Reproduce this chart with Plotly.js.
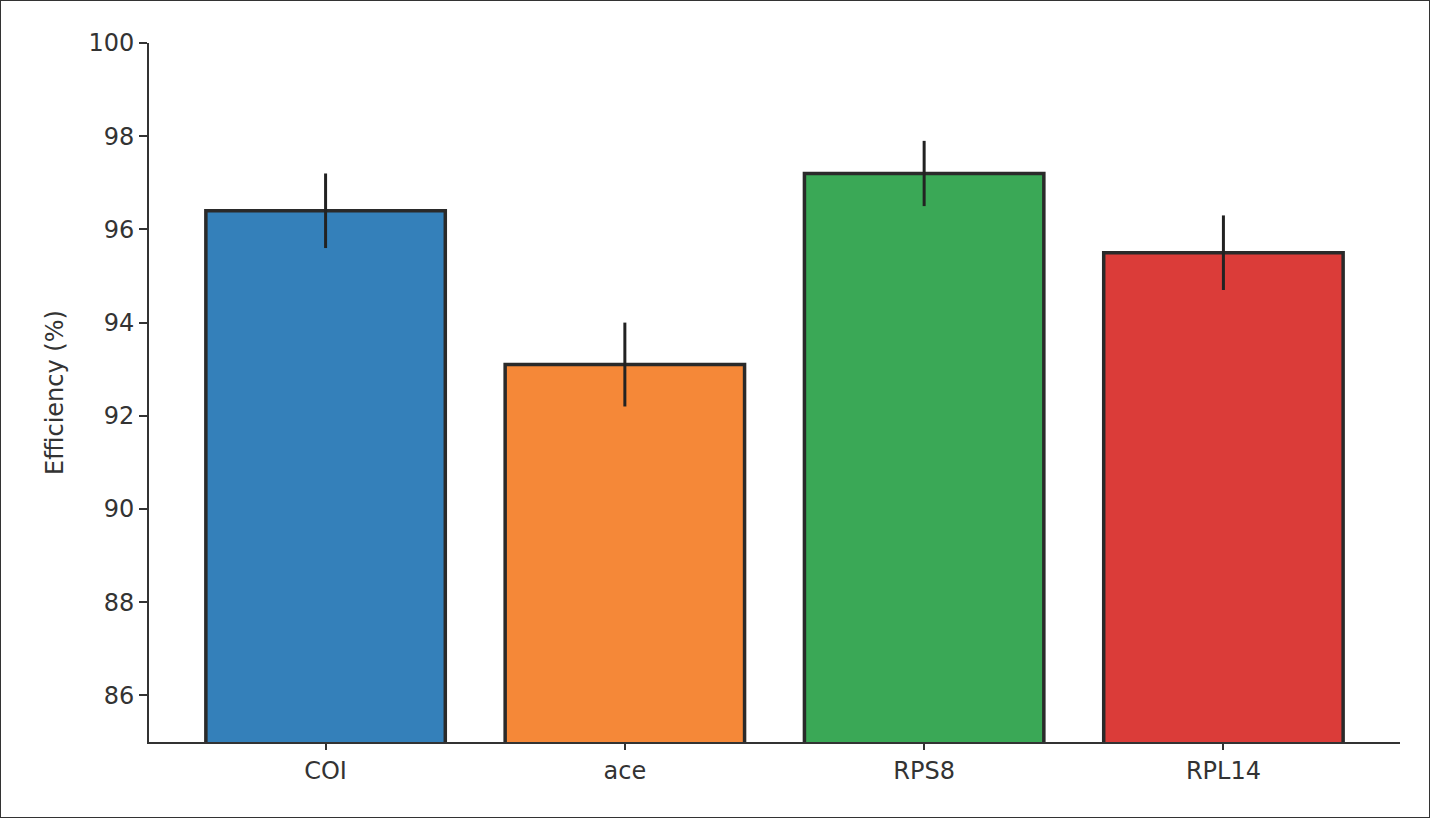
<html><head><script src="https://cdn.plot.ly/plotly-3.0.1.min.js"></script>
<style>body{margin:0}#c{width:1430px;height:818px;box-sizing:border-box;border:1.5px solid #333}</style></head>
<body><div id="c"></div><script>
const categories=["COI","ace","RPS8","RPL14"];
const efficiency=[96.4,93.1,97.2,95.5];
const errors=[0.8,0.9,0.7,0.8];
const colors=["#3480ba","#f58838","#3aa856","#db3c39"];
Plotly.newPlot("c",[{type:"bar",x:categories,y:efficiency,width:0.8,
 marker:{color:colors,line:{color:"#2a2a2a",width:3.5}},
 error_y:{type:"data",array:errors,visible:true,color:"#222",thickness:3,width:0}}],
{width:1427,height:815,margin:{l:148,r:28,t:42,b:74},paper_bgcolor:"white",plot_bgcolor:"white",
 font:{family:"DejaVu Sans",color:"#333",size:24},showlegend:false,bargap:0.2,
 xaxis:{range:[-0.59,3.59],showline:true,linecolor:"#333",linewidth:2,ticks:"outside",ticklen:6,tickcolor:"#333",tickwidth:2,tickfont:{size:24}},
 yaxis:{range:[85,100],tickvals:[86,88,90,92,94,96,98,100],showgrid:false,zeroline:false,showline:true,linecolor:"#333",linewidth:2,ticks:"outside",ticklen:8,tickwidth:2,tickcolor:"#333",
  title:{text:"Efficiency (%)",font:{size:24},standoff:18}}},{staticPlot:true});
</script></body></html>
